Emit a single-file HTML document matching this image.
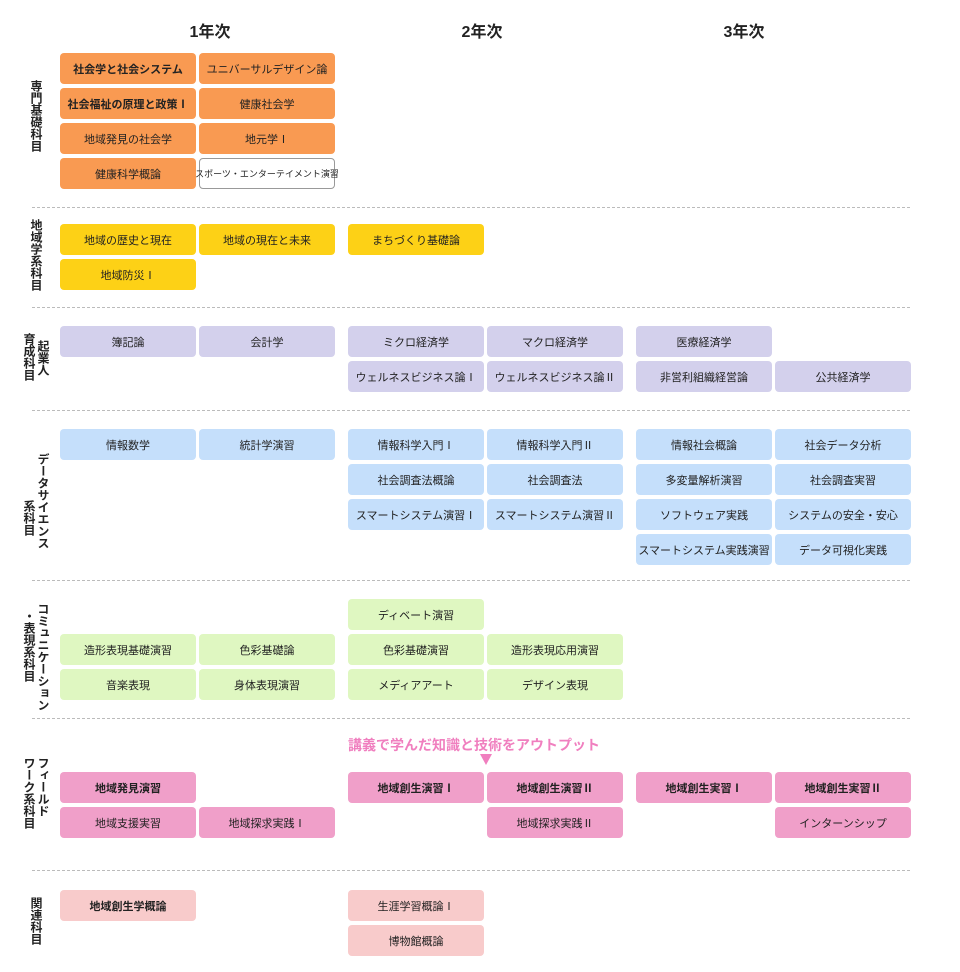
<!DOCTYPE html>
<html><head><meta charset="utf-8">
<style>
body{margin:0;background:#fff;width:960px;height:972px;position:relative;overflow:hidden;font-family:"Liberation Sans","Noto Sans CJK JP",sans-serif;color:#222}
.hd{position:absolute;top:18px;font-size:16px;font-weight:bold;width:120px;text-align:center}
.box{position:absolute;width:136px;height:31px;border-radius:4px;font-size:11px;display:flex;align-items:center;justify-content:center;box-sizing:border-box;white-space:nowrap}
.b{font-weight:bold}
.lbl{position:absolute;writing-mode:vertical-rl;font-size:12px;font-weight:bold;line-height:12px;width:12px}
.div{position:absolute;left:32px;width:878px;height:0;border-top:1px dashed #bbb}
.o{background:#f99a52}.y{background:#fdd116}.l{background:#d3d0ec}.c{background:#c5dffb}.g{background:#dff7c1}.p{background:#f09fc9}.q{background:#f8cbcb}.w{background:#fff;border:1px solid #999;font-size:9px}
</style></head><body>
<div class="hd" style="left:150px">1年次</div>
<div class="hd" style="left:422px">2年次</div>
<div class="hd" style="left:684px">3年次</div>
<div id="root"></div>
<div style="position:absolute;left:348px;top:735px;font-size:14px;font-weight:bold;color:#f07fbf;white-space:nowrap">講義で学んだ知識と技術をアウトプット</div>
<div style="position:absolute;left:480px;top:754px;width:0;height:0;border-left:6px solid transparent;border-right:6px solid transparent;border-top:11px solid #f07fbf"></div>
<script>
const colX=[60,199,348,487,636,775];
const rowY=[53,88,123,158,224,259,326,361,429,464,499,534,599,634,669,772,807,890,925];
const courses=[
[0,0,'o','社会学と社会システム',1],[1,0,'o','ユニバーサルデザイン論',0],
[0,1,'o','社会福祉の原理と政策Ⅰ',1],[1,1,'o','健康社会学',0],
[0,2,'o','地域発見の社会学',0],[1,2,'o','地元学Ⅰ',0],
[0,3,'o','健康科学概論',0],[1,3,'w','スポーツ・エンターテイメント演習',0],
[0,4,'y','地域の歴史と現在',0],[1,4,'y','地域の現在と未来',0],[2,4,'y','まちづくり基礎論',0],
[0,5,'y','地域防災Ⅰ',0],
[0,6,'l','簿記論',0],[1,6,'l','会計学',0],[2,6,'l','ミクロ経済学',0],[3,6,'l','マクロ経済学',0],[4,6,'l','医療経済学',0],
[2,7,'l','ウェルネスビジネス論Ⅰ',0],[3,7,'l','ウェルネスビジネス論Ⅱ',0],[4,7,'l','非営利組織経営論',0],[5,7,'l','公共経済学',0],
[0,8,'c','情報数学',0],[1,8,'c','統計学演習',0],[2,8,'c','情報科学入門Ⅰ',0],[3,8,'c','情報科学入門Ⅱ',0],[4,8,'c','情報社会概論',0],[5,8,'c','社会データ分析',0],
[2,9,'c','社会調査法概論',0],[3,9,'c','社会調査法',0],[4,9,'c','多変量解析演習',0],[5,9,'c','社会調査実習',0],
[2,10,'c','スマートシステム演習Ⅰ',0],[3,10,'c','スマートシステム演習Ⅱ',0],[4,10,'c','ソフトウェア実践',0],[5,10,'c','システムの安全・安心',0],
[4,11,'c','スマートシステム実践演習',0],[5,11,'c','データ可視化実践',0],
[2,12,'g','ディベート演習',0],
[0,13,'g','造形表現基礎演習',0],[1,13,'g','色彩基礎論',0],[2,13,'g','色彩基礎演習',0],[3,13,'g','造形表現応用演習',0],
[0,14,'g','音楽表現',0],[1,14,'g','身体表現演習',0],[2,14,'g','メディアアート',0],[3,14,'g','デザイン表現',0],
[0,15,'p','地域発見演習',1],[2,15,'p','地域創生演習Ⅰ',1],[3,15,'p','地域創生演習Ⅱ',1],[4,15,'p','地域創生実習Ⅰ',1],[5,15,'p','地域創生実習Ⅱ',1],
[0,16,'p','地域支援実習',0],[1,16,'p','地域探求実践Ⅰ',0],[3,16,'p','地域探求実践Ⅱ',0],[5,16,'p','インターンシップ',0],
[0,17,'q','地域創生学概論',1],[2,17,'q','生涯学習概論Ⅰ',0],[2,18,'q','博物館概論',0]
];
const labels=[[30,80,'専門基礎科目'],[30,219,'地域学系科目'],[37,340,'起業人'],[23,333,'育成科目'],
[37,453,'データサイエンス'],[23,500,'系科目'],[37,603,'コミュニケーション'],[23,610,'・表現系科目'],
[37,757,'フィールド'],[23,757,'ワーク系科目'],[30,897,'関連科目']];
const dividers=[207,307,410,580,718,870];
const root=document.getElementById('root');
courses.forEach(c=>{
  const d=document.createElement('div');
  d.className='box '+c[2]+(c[4]?' b':'');
  d.style.left=colX[c[0]]+'px';d.style.top=rowY[c[1]]+'px';
  d.textContent=c[3];
  
  
  root.appendChild(d);
});
labels.forEach(l=>{
  const d=document.createElement('div');
  d.className='lbl';d.style.left=l[0]+'px';d.style.top=l[1]+'px';d.textContent=l[2];
  
  
  root.appendChild(d);
});
dividers.forEach(y=>{
  const d=document.createElement('div');
  d.className='div';d.style.top=y+'px';
  
  
  root.appendChild(d);
});
</script>
</body></html>
